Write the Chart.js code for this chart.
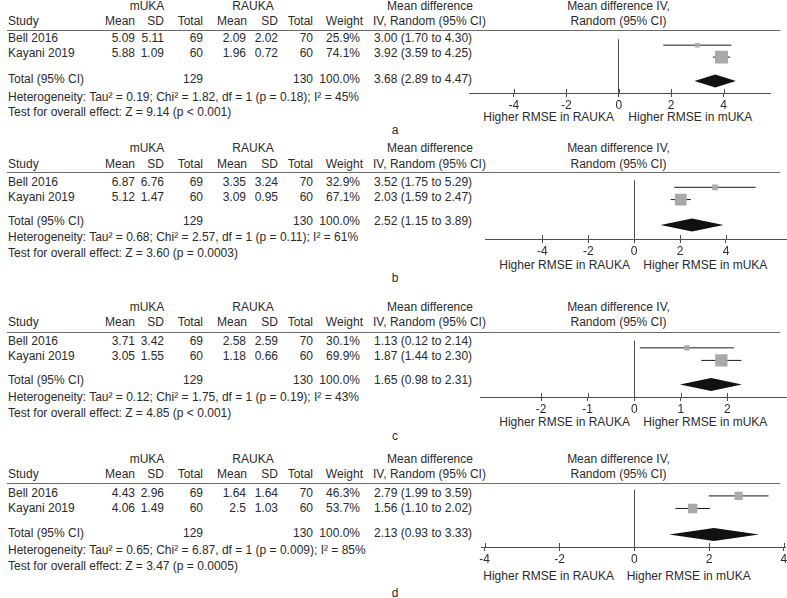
<!DOCTYPE html>
<html><head><meta charset="utf-8">
<script src="https://cdn.jsdelivr.net/npm/chart.js@4.4.0/dist/chart.umd.min.js"></script>
<style>
html,body{margin:0;padding:0;background:#fff;width:787px;height:598px;overflow:hidden;}
#page{position:relative;width:787px;height:598px;overflow:hidden;font-family:"Liberation Sans",Arial,sans-serif;font-size:12px;color:#2b2b2b;}
.t{position:absolute;white-space:nowrap;line-height:14px;height:14px;}
canvas{position:absolute;}
.hl{position:absolute;height:1px;background:#6a6a6a;}
</style></head><body><div id="page"></div>
<script>
// ---------- data ----------
const panelLetters = ['a', 'b', 'c', 'd'];
const studies = ['Bell 2016', 'Kayani 2019'];
const mukaMean = [[5.09, 5.88], [6.87, 5.12], [3.71, 3.05], [4.43, 4.06]];
const mukaSD = [[5.11, 1.09], [6.76, 1.47], [3.42, 1.55], [2.96, 1.49]];
const mukaN = [69, 60];
const raukaMean = [[2.09, 1.96], [3.35, 3.09], [2.58, 1.18], [1.64, 2.5]];
const raukaSD = [[2.02, 0.72], [3.24, 0.95], [2.59, 0.66], [1.64, 1.03]];
const raukaN = [70, 60];
const mukaTotal = 129;
const raukaTotal = 130;
const weights = [[25.9, 74.1], [32.9, 67.1], [30.1, 69.9], [46.3, 53.7]];
const meanDiff = [[3.00, 3.92], [3.52, 2.03], [1.13, 1.87], [2.79, 1.56]];
const ciLow = [[1.70, 3.59], [1.75, 1.59], [0.12, 1.44], [1.99, 1.10]];
const ciHigh = [[4.30, 4.25], [5.29, 2.47], [2.14, 2.30], [3.59, 2.02]];
const pooled = [3.68, 2.52, 1.65, 2.13];
const pooledLow = [2.89, 1.15, 0.98, 0.93];
const pooledHigh = [4.47, 3.89, 2.31, 3.33];
const tau2 = ['0.19', '0.68', '0.12', '0.65'];
const chi2 = ['1.82', '2.57', '1.75', '6.87'];
const hetP = ['0.18', '0.11', '0.19', '0.009'];
const iSq = [45, 61, 43, 85];
const zVal = ['9.14', '3.60', '4.85', '3.47'];
const zP = ['p < 0.001', 'p = 0.0003', 'p < 0.001', 'p = 0.0005'];
const tickValues = [[-4, -2, 0, 2, 4], [-4, -2, 0, 2, 4], [-2, -1, 0, 1, 2], [-4, -2, 0, 2, 4]];
const leftLabel = 'Higher RMSE in RAUKA';
const rightLabel = 'Higher RMSE in mUKA';

// ---------- layout ----------
const layouts = [
  {L:30, axisY:93, left:469.3, right:770, min:-5.70, max:5.77, rows:[7,21], total:49,
   ty:{grp:6,hdr:21,s:[38,53],tot:79,het:97,test:112,higher:117,letter:130}, hiR:614, hiL:628.3},
  {L:172, axisY:239, left:485, right:787.5, min:-6.5, max:6.68, rows:[8,22], total:51,
   ty:{grp:148,hdr:164,s:[182,197],tot:221,het:237,test:253,higher:265,letter:278}, hiR:630, hiL:643.3},
  {L:332, axisY:397, left:480, right:788, min:-3.31, max:3.30, rows:[8.3,22.8], total:50.6,
   ty:{grp:307,hdr:322,s:[341,356],tot:380,het:397,test:413,higher:422,letter:436}, hiR:630, hiL:643.3},
  {L:483, axisY:547, left:481.7, right:785, min:-4.08, max:4.03, rows:[7,21], total:50,
   ty:{grp:459,hdr:474,s:[493,508],tot:533,het:550,test:566,higher:575.7,letter:593}, hiR:614, hiL:626.7}
];
const TEXT = '#2b2b2b', AXIS = '#505050', CI = '#1a1a1a', BOX = '#a9a9a9', DIAMOND = '#111111';
const page = document.getElementById('page');

function txt(s, x, y, align) {
  const d = document.createElement('div');
  d.className = 't';
  d.textContent = s;
  d.style.top = (y - 7) + 'px';
  if (align === 'r') d.style.right = (787 - x) + 'px';
  else if (align === 'c') { d.style.left = x + 'px'; d.style.transform = 'translateX(-50%)'; }
  else d.style.left = x + 'px';
  page.appendChild(d);
}
const f2 = v => v.toFixed(2);
const ciText = (m, l, h) => `${f2(m)} (${f2(l)} to ${f2(h)})`;

const forestPlugin = {
  id: 'forest',
  afterDatasetsDraw(chart, args, opts) {
    const p = opts.p, lay = layouts[p];
    const {ctx, scales: {x, y}} = chart;
    ctx.save();
    // pooled diamond
    const yc = y.getPixelForValue(lay.total);
    ctx.fillStyle = DIAMOND;
    ctx.beginPath();
    ctx.moveTo(x.getPixelForValue(pooledLow[p]), yc);
    ctx.lineTo(x.getPixelForValue(pooled[p]), yc - 6.5);
    ctx.lineTo(x.getPixelForValue(pooledHigh[p]), yc);
    ctx.lineTo(x.getPixelForValue(pooled[p]), yc + 6.5);
    ctx.closePath();
    ctx.fill();
    // upward tick marks
    ctx.strokeStyle = AXIS;
    ctx.lineWidth = 1;
    const ay = Math.round(x.top);
    x.ticks.forEach(t => {
      const px = Math.round(x.getPixelForValue(t.value)) + 0.5;
      ctx.beginPath();
      ctx.moveTo(px, ay - 4);
      ctx.lineTo(px, ay);
      ctx.stroke();
    });
    ctx.restore();
  }
};

panelLetters.forEach((letter, p) => {
  const lay = layouts[p], ty = lay.ty;
  // header
  txt('mUKA', 147, ty.grp, 'c');
  txt('RAUKA', 253, ty.grp, 'c');
  txt('Mean difference', 430, ty.grp, 'c');
  txt('Mean difference IV,', 618.5, ty.grp, 'c');
  txt('Study', 8, ty.hdr, 'l');
  txt('Mean', 135, ty.hdr, 'r');
  txt('SD', 164, ty.hdr, 'r');
  txt('Total', 203, ty.hdr, 'r');
  txt('Mean', 247, ty.hdr, 'r');
  txt('SD', 278, ty.hdr, 'r');
  txt('Total', 313, ty.hdr, 'r');
  txt('Weight', 363, ty.hdr, 'r');
  txt('IV, Random (95% CI)', 373, ty.hdr, 'l');
  txt('Random (95% CI)', 618.5, ty.hdr, 'c');
  const hl = document.createElement('div');
  hl.className = 'hl';
  hl.style.top = lay.L + 'px'; hl.style.left = '7px'; hl.style.width = '773px';
  page.appendChild(hl);
  // study rows
  studies.forEach((s, i) => {
    const y = ty.s[i];
    txt(s, 8, y, 'l');
    txt(String(mukaMean[p][i]), 135, y, 'r');
    txt(String(mukaSD[p][i]), 164, y, 'r');
    txt(String(mukaN[i]), 203, y, 'r');
    txt(String(raukaMean[p][i]), 246, y, 'r');
    txt(String(raukaSD[p][i]), 278, y, 'r');
    txt(String(raukaN[i]), 313, y, 'r');
    txt(weights[p][i].toFixed(1) + '%', 360, y, 'r');
    txt(ciText(meanDiff[p][i], ciLow[p][i], ciHigh[p][i]), 374, y, 'l');
  });
  const wSum = weights[p].reduce((a, b) => a + b, 0);
  txt('Total (95% CI)', 8, ty.tot, 'l');
  txt(String(mukaTotal), 203, ty.tot, 'r');
  txt(String(raukaTotal), 313, ty.tot, 'r');
  txt(wSum.toFixed(1) + '%', 360, ty.tot, 'r');
  txt(ciText(pooled[p], pooledLow[p], pooledHigh[p]), 374, ty.tot, 'l');
  txt(`Heterogeneity: Tau\u00B2 = ${tau2[p]}; Chi\u00B2 = ${chi2[p]}, df = 1 (p = ${hetP[p]}); I\u00B2 = ${iSq[p]}%`, 8, ty.het, 'l');
  txt(`Test for overall effect: Z = ${zVal[p]} (${zP[p]})`, 8, ty.test, 'l');
  txt(leftLabel, lay.hiR, ty.higher, 'r');
  txt(rightLabel, lay.hiL, ty.higher, 'l');
  txt(letter, 395, ty.letter, 'c');

  // chart
  const cLeft = 440, cW = 360, xH = 24;
  const plotH = lay.axisY - lay.L;
  const cv = document.createElement('canvas');
  cv.width = cW; cv.height = plotH + xH;
  cv.style.left = cLeft + 'px'; cv.style.top = lay.L + 'px';
  cv.style.width = cW + 'px'; cv.style.height = (plotH + xH) + 'px';
  page.appendChild(cv);

  const datasets = [{
    type: 'scatter',
    data: studies.map((s, i) => ({x: meanDiff[p][i], y: lay.rows[i]})),
    pointStyle: 'rect',
    pointRadius: c => (0.175 * weights[p][c.dataIndex]) / Math.SQRT2,
    backgroundColor: BOX,
    borderWidth: 0,
    order: 0
  }];
  studies.forEach((s, i) => {
    datasets.push({
      type: 'scatter',
      showLine: true,
      data: [{x: ciLow[p][i], y: lay.rows[i]}, {x: ciHigh[p][i], y: lay.rows[i]}],
      borderColor: CI,
      borderWidth: 1,
      pointRadius: 0,
      order: 1
    });
  });

  new Chart(cv, {
    type: 'scatter',
    data: {datasets},
    plugins: [forestPlugin],
    options: {
      responsive: false,
      animation: false,
      devicePixelRatio: window.devicePixelRatio || 1,
      events: [],
      layout: {padding: {left: lay.left - cLeft, right: cLeft + cW - lay.right, top: 0, bottom: 0}},
      plugins: {legend: {display: false}, tooltip: {enabled: false}, forest: {p}},
      scales: {
        x: {
          type: 'linear', min: lay.min, max: lay.max,
          afterBuildTicks: s => { s.ticks = tickValues[p].map(v => ({value: v})); },
          afterFit: s => { s.height = xH; },
          border: {display: true, color: AXIS, width: 1},
          grid: {
            drawOnChartArea: true, drawTicks: true, tickLength: 4,
            color: c => (c.tick && c.tick.value === 0) ? AXIS : 'rgba(0,0,0,0)',
            tickColor: AXIS, lineWidth: 1
          },
          ticks: {
            autoSkip: false, maxRotation: 0, padding: 1, color: TEXT,
            font: {family: '"Liberation Sans", Arial, sans-serif', size: 12},
            callback: v => String(v)
          }
        },
        y: {type: 'linear', display: false, reverse: true, min: 0, max: plotH}
      }
    }
  });
});
</script>
</body></html>
